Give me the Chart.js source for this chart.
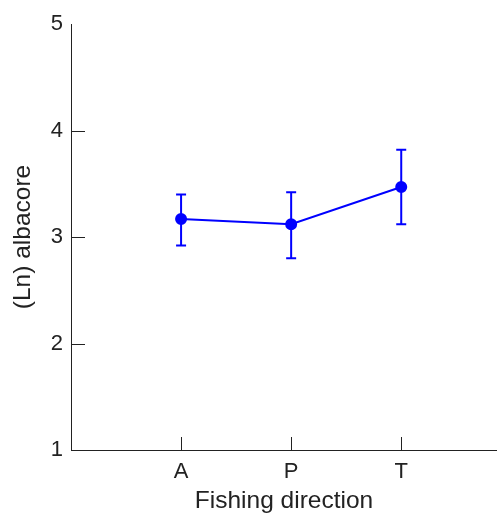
<!DOCTYPE html>
<html>
<head>
<meta charset="utf-8">
<script src="https://cdn.jsdelivr.net/npm/chart.js@4.4.0/dist/chart.umd.min.js"></script>
<style>
  html, body { margin: 0; padding: 0; background: #fff; overflow: hidden; }
  #wrap { width: 497px; height: 516px; }
</style>
</head>
<body>
<div id="wrap"><canvas id="albacoreChart" width="497" height="516"></canvas></div>
<script>
// Fishing direction categories and their x positions on the axis
const directions = ['A', 'P', 'T'];
const positions = [1, 2, 3];

// (Ln) albacore means with lower / upper error limits
const means = [3.17, 3.12, 3.47];
const lower = [2.92, 2.80, 3.12];
const upper = [3.40, 3.42, 3.82];

// y axis tick values
const yTicks = [1, 2, 3, 4, 5];

document.addEventListener('DOMContentLoaded', () => {
    const axisColor = '#222';
    const lineBlue = '#0000ff';
    const fontFamily = '"Liberation Sans", Arial, sans-serif';

    // Vertical error bars with caps, drawn under the markers
    const errorBars = {
        id: 'errorBars',
        beforeDatasetsDraw(chart) {
            const { ctx, scales: { x, y } } = chart;
            ctx.save();
            ctx.strokeStyle = lineBlue;
            ctx.lineWidth = 2;
            positions.forEach((p, i) => {
                const px = x.getPixelForValue(p);
                const top = y.getPixelForValue(upper[i]);
                const bot = y.getPixelForValue(lower[i]);
                ctx.beginPath();
                ctx.moveTo(px, top);
                ctx.lineTo(px, bot);
                ctx.moveTo(px - 5, top);
                ctx.lineTo(px + 5, top);
                ctx.moveTo(px - 5, bot);
                ctx.lineTo(px + 5, bot);
                ctx.stroke();
            });
            ctx.restore();
        }
    };

    // Tick marks pointing into the plot area
    const innerTicks = {
        id: 'innerTicks',
        afterDraw(chart) {
            const { ctx, scales: { x, y } } = chart;
            ctx.save();
            ctx.strokeStyle = axisColor;
            ctx.lineWidth = 1;
            ctx.beginPath();
            yTicks.slice(0, -1).forEach(v => {
                const py = Math.round(y.getPixelForValue(v)) + 0.5;
                ctx.moveTo(x.left, py);
                ctx.lineTo(x.left + 14, py);
            });
            positions.forEach(p => {
                const px = Math.round(x.getPixelForValue(p)) + 0.5;
                ctx.moveTo(px, y.bottom);
                ctx.lineTo(px, y.bottom - 13);
            });
            ctx.stroke();
            ctx.restore();
        }
    };

    const ctx = document.getElementById('albacoreChart').getContext('2d');

    new Chart(ctx, {
        type: 'line',
        data: {
            datasets: [{
                data: positions.map((p, i) => ({ x: p, y: means[i] })),
                borderColor: lineBlue,
                backgroundColor: lineBlue,
                borderWidth: 2,
                pointRadius: 5,
                pointHoverRadius: 5,
                tension: 0
            }]
        },
        options: {
            responsive: false,
            animation: false,
            events: [],
            layout: {
                autoPadding: false,
                padding: { top: 24, right: 0, left: 0, bottom: 0 }
            },
            plugins: {
                legend: { display: false },
                tooltip: { enabled: false }
            },
            scales: {
                x: {
                    type: 'linear',
                    min: 0,
                    max: 3.87,
                    afterBuildTicks: scale => {
                        scale.ticks = positions.map(v => ({ value: v }));
                    },
                    afterFit: scale => {
                        scale.height = 66;
                        scale.paddingLeft = 0;
                        scale.paddingRight = 0;
                    },
                    grid: { display: false, drawTicks: false },
                    border: { display: true, color: axisColor, width: 1 },
                    ticks: {
                        color: axisColor,
                        padding: 9,
                        font: { family: fontFamily, size: 22 },
                        callback: v => directions[positions.indexOf(v)] ?? ''
                    },
                    title: {
                        display: true,
                        text: 'Fishing direction',
                        color: axisColor,
                        padding: { top: 0, bottom: 0 },
                        font: { family: fontFamily, size: 24.5 }
                    }
                },
                y: {
                    min: 1,
                    max: 5,
                    afterBuildTicks: scale => {
                        scale.ticks = yTicks.map(v => ({ value: v }));
                    },
                    afterFit: scale => { scale.width = 71; },
                    grid: { display: false, drawTicks: false },
                    border: { display: true, color: axisColor, width: 1 },
                    ticks: {
                        color: axisColor,
                        padding: 8,
                        font: { family: fontFamily, size: 22 }
                    },
                    title: {
                        display: true,
                        text: '(Ln) albacore',
                        color: axisColor,
                        padding: { top: 9, bottom: 0 },
                        font: { family: fontFamily, size: 24.5 }
                    }
                }
            }
        },
        plugins: [errorBars, innerTicks]
    });
});
</script>
</body>
</html>
